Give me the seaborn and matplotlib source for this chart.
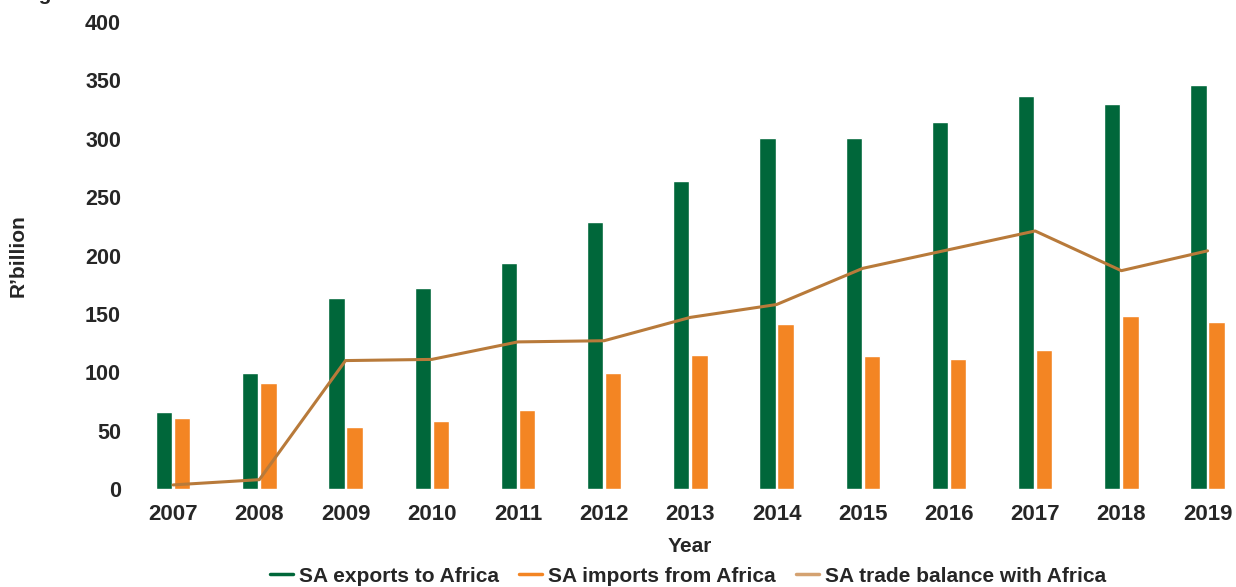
import numpy as np
import pandas as pd
import matplotlib
matplotlib.use("Agg")
import matplotlib.pyplot as plt
from matplotlib.lines import Line2D
import seaborn as sns

years = ["2007", "2008", "2009", "2010", "2011", "2012", "2013",
         "2014", "2015", "2016", "2017", "2018", "2019"]
exports = [66, 99, 164, 172, 194, 229, 264, 301, 301, 314, 337, 330, 346]
imports = [61, 91, 53, 58, 68, 99, 115, 141, 114, 111, 119, 148, 143]
balance = [3.5, 8, 110, 111, 126, 127, 147, 158, 189, 205, 221, 187, 204]

s_exp = "SA exports to Africa"
s_imp = "SA imports from Africa"
s_bal = "SA trade balance with Africa"

c_exp = "#00673A"
c_imp = "#F38523"
c_bal = "#B87A3A"
c_bal_leg = "#D4A271"

sns.set_theme(style="white")
plt.rcParams["font.family"] = ["Liberation Sans", "DejaVu Sans"]
plt.rcParams["font.weight"] = "bold"

df = pd.DataFrame({
    "Year": years * 2,
    "Value": exports + imports,
    "Series": [s_exp] * len(years) + [s_imp] * len(years),
})

fig = plt.figure(figsize=(12.36, 5.87), dpi=100)
ax = fig.add_axes([130 / 1236, 1 - 489 / 587, 1106 / 1236, (489 - 22) / 587])

sns.barplot(data=df, x="Year", y="Value", hue="Series", order=years,
            hue_order=[s_exp, s_imp], palette=[c_exp, c_imp],
            width=0.42, gap=0.1, saturation=1, ax=ax, legend=False)
sns.lineplot(x=np.arange(len(years)), y=balance, color=c_bal, linewidth=2.2,
             ax=ax, legend=False)

ax.set_ylim(0, 400)
ax.set_xlim(-0.5, 12.33)
ax.set_yticks(np.arange(0, 401, 50))
ax.tick_params(axis="both", length=0)
ax.tick_params(axis="y", pad=6.5, labelsize=15.5)
ax.tick_params(axis="x", pad=11, labelsize=16)
for lab in ax.get_xticklabels() + ax.get_yticklabels():
    lab.set_fontweight("bold")
for sp in ax.spines.values():
    sp.set_visible(False)

ax.set_xlabel("Year", fontsize=15, fontweight="bold")
ax.xaxis.set_label_coords(560 / 1106, -(546 - 489) / 467)
ax.xaxis.label.set_va("center")
ax.set_ylabel("R\u2019billion", fontsize=15, fontweight="bold")
ax.yaxis.set_label_coords(-(130 - 18.5) / 1106, 0.5)
ax.yaxis.label.set_va("center")

handles = [Line2D([], [], color=c_exp, lw=2.5),
           Line2D([], [], color=c_imp, lw=2.5),
           Line2D([], [], color=c_bal_leg, lw=2.5)]
fig.legend(handles, [s_exp, s_imp, s_bal], loc="center",
           bbox_to_anchor=(688 / 1236, 1 - 576 / 587), ncol=3, frameon=False,
           prop={"size": 15, "weight": "bold"}, handlelength=1.1,
           handletextpad=0.3, columnspacing=0.95)

fig.text(21 / 1236, 1.0, "Fig", fontsize=15, fontweight="bold",
         ha="left", va="baseline")

fig.savefig("out.png", dpi=100)
